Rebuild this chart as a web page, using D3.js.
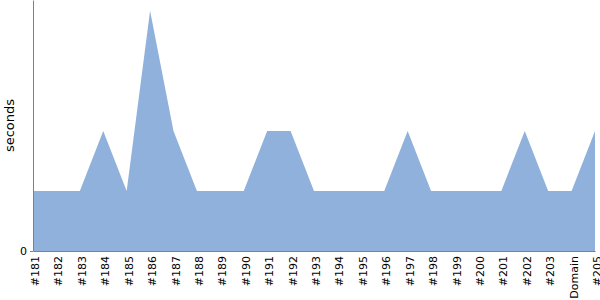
<!DOCTYPE html>
<html>
<head>
<meta charset="utf-8">
<script src="https://cdn.jsdelivr.net/npm/d3@7"></script>
<style>
body { margin: 0; background: #fff; }
svg { display: block; font-family: "DejaVu Sans", sans-serif; }
</style>
</head>
<body>
<div id="chart"></div>
<script>
var builds = ['#181', '#182', '#183', '#184', '#185', '#186', '#187', '#188', '#189', '#190',
	'#191', '#192', '#193', '#194', '#195', '#196', '#197', '#198', '#199', '#200',
	'#201', '#202', '#203', 'Domain', '#205'];
var seconds = [1, 1, 1, 2, 1, 4, 2, 1, 1, 1,
	2, 2, 1, 1, 1, 1, 2, 1, 1, 1,
	1, 2, 1, 1, 2];
var yTicks = [0];

var width = 600, height = 300;
var margin = {top: 0, right: 5, bottom: 49, left: 33};
var plotW = width - margin.left - margin.right;
var plotH = height - margin.top - margin.bottom;

var svg = d3.select('#chart').append('svg')
	.attr('width', width)
	.attr('height', height);

var x = d3.scalePoint()
	.domain(builds)
	.range([0, plotW]);

var y = d3.scaleLinear()
	.domain([0, 4.18])
	.range([plotH, 0]);

var g = svg.append('g')
	.attr('transform', 'translate(' + margin.left + ',' + margin.top + ')');

var area = d3.area()
	.x(function(d, i) { return x(builds[i]); })
	.y0(plotH)
	.y1(function(d) { return y(d); });

g.append('path')
	.datum(seconds)
	.attr('fill', '#8fb1db')
	.attr('d', area);

// y axis
var yAxis = g.append('g')
	.call(d3.axisLeft(y).tickValues(yTicks).tickFormat(d3.format('d')).tickSize(3).tickSizeOuter(0));
yAxis.select('.domain').attr('stroke', '#808080');
yAxis.selectAll('.tick line').attr('stroke', '#808080');
yAxis.selectAll('.tick text').attr('font-size', 11).attr('fill', '#000')
	.attr('font-family', '"DejaVu Sans", sans-serif');

// x axis
var xAxis = g.append('g')
	.attr('transform', 'translate(0,' + plotH + ')')
	.call(d3.axisBottom(x).tickSize(0).tickSizeOuter(0));
xAxis.select('.domain').attr('stroke', '#808080');
xAxis.selectAll('.tick text')
	.attr('font-size', 11)
	.attr('fill', '#000')
	.attr('font-family', '"DejaVu Sans", sans-serif')
	.attr('text-anchor', 'end')
	.attr('transform', 'rotate(-90)')
	.attr('x', -5)
	.attr('y', 0)
	.attr('dy', '0.5em');

svg.append('text')
	.attr('transform', 'translate(14,' + (plotH / 2) + ') rotate(-90)')
	.attr('text-anchor', 'middle')
	.attr('font-size', 13)
	.attr('fill', '#000')
	.text('seconds');
</script>
</body>
</html>
